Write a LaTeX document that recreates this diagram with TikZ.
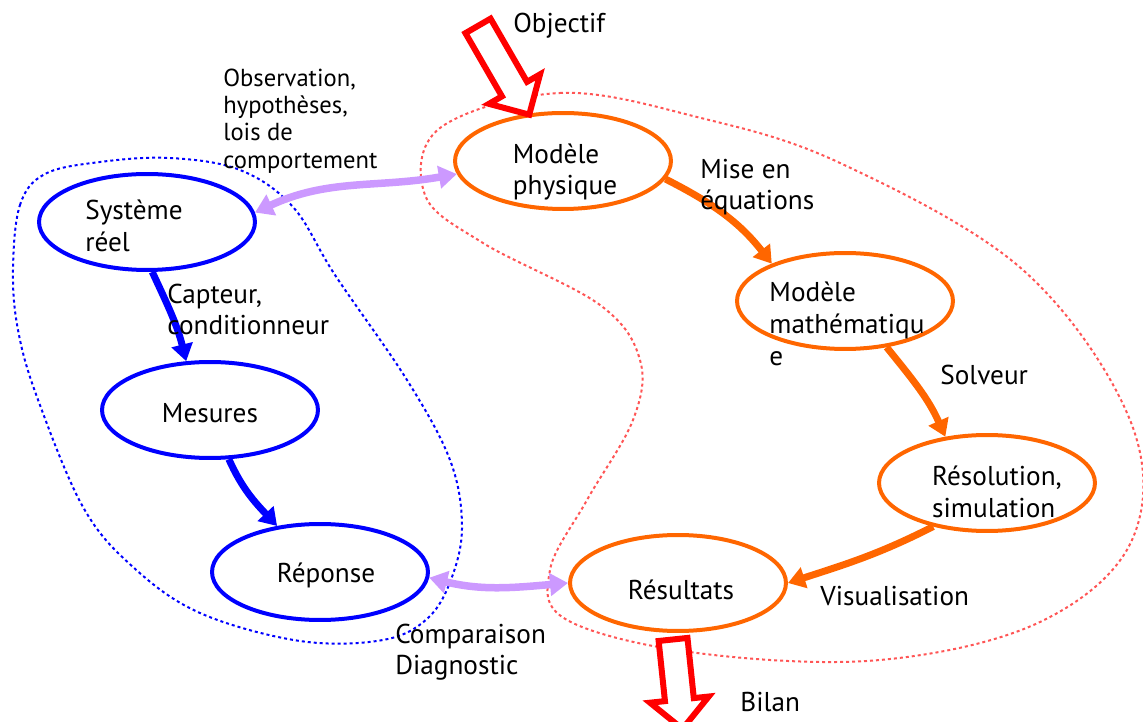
\documentclass[tikz,border=0pt]{standalone}
\usepackage{fontspec}
\setmainfont{PT Sans}
\usepackage{tikz}
\usetikzlibrary{shapes.geometric, shapes.arrows, arrows.meta}
\definecolor{orangeA}{RGB}{255,102,0}
\definecolor{rougeP}{RGB}{255,85,85}
\definecolor{lilas}{RGB}{204,153,255}
\newcommand{\ellfont}{\fontsize{15.5}{18.2}\selectfont}
\newcommand{\lblfont}{\fontsize{15.5}{17.6}\selectfont}
\newcommand{\obsfont}{\fontsize{14}{15.4}\selectfont}

\begin{document}
\begin{tikzpicture}[x=0.02cm, y=0.02cm,
    bluenode/.style={draw=blue, ellipse, line width=0.08cm, minimum width=4.32cm, minimum height=1.92cm, inner sep=0pt},
    orangenode/.style={bluenode, draw=orangeA},
    eltext/.style={font=\ellfont, align=left, inner sep=0pt},
    bluearrow/.style={draw=blue, line width=0.14cm, -{Triangle[length=0.34cm, width=0.42cm]}},
    orangearrow/.style={bluearrow, draw=orangeA},
    lilacarrow/.style={draw=lilas, line width=0.15cm, {Triangle[length=0.36cm, width=0.44cm]}-{Triangle[length=0.36cm, width=0.44cm]}},
    hollowarrow/.style={single arrow, draw=red, fill=white, line width=0.12cm, inner sep=0.23cm, single arrow head extend=0.3cm},
    bluedots/.style={draw=blue, line width=0.04cm, dash pattern=on 0.06cm off 0.06cm},
    reddots/.style={draw=rougeP, line width=0.04cm, dash pattern=on 0.06cm off 0.06cm},
    lbl/.style={font=\lblfont, inner sep=0pt}]
        \useasboundingbox (0,0) rectangle (1143,-722);

        \draw[bluedots] plot[smooth cycle, tension=0.6] coordinates {(13,-270) (20,-205) (45,-174) (100,-162) (170,-158) (240,-170) (293,-207) (335,-275) (407,-380) (450,-460) (462,-525) (452,-577) (428,-618) (383,-640) (300,-641) (200,-613) (133,-567) (83,-507) (37,-397) (18,-330)};
        \draw[reddots] plot[smooth cycle, tension=0.6] coordinates {(440,-128) (560,-93) (697,-117) (840,-163) (1023,-270) (1130,-420) (1132,-540) (1040,-622) (880,-660) (697,-653) (567,-620) (550,-570) (587,-500) (633,-420) (640,-360) (600,-305) (483,-243) (425,-195)};

        \node[bluenode, label={[eltext, xshift=-0.26cm, yshift=-0.08cm]center:{Système\\réel}}] (sys) at (147,-222) {};
        \node[bluenode, label={[eltext, yshift=-0.06cm]center:Mesures}] (mes) at (210,-410) {};
        \node[bluenode, label={[eltext, xshift=0.12cm, yshift=-0.06cm]center:Réponse}] (rep) at (320,-572) {};
        \node[orangenode, label={[eltext, xshift=0.04cm, yshift=-0.22cm]center:{Modèle\\physique}}] (phys) at (563,-161) {};
        \node[orangenode, label={[eltext, xshift=0.04cm, yshift=-0.46cm]center:{Modèle\\mathématiqu\\e}}] (math) at (845,-301) {};
        \node[orangenode, label={[eltext, xshift=0.2cm, yshift=-0.18cm]center:{Résolution,\\simulation}}] (simu) at (987,-483) {};
        \node[orangenode, label={[eltext, xshift=0.06cm, yshift=-0.14cm]center:Résultats}] (resu) at (678,-583) {};

        \draw[bluearrow] (sys.-84) to[out=-65, in=104] (mes.116);
        \draw[bluearrow] (mes.-69) to[out=-66, in=133] (rep.133);
        \draw[orangearrow] (phys.-10) to[out=-27, in=128] (math.153);
        \draw[orangearrow] (math.-48) to[out=-51, in=114] (simu.132);
        \draw[orangearrow] (simu.219) to[out=207, in=18] (resu.0);
        \draw[lilacarrow] (sys.5) to[out=25, in=190] (phys.187);
        \draw[lilacarrow] (rep.-3) to[out=-14, in=185] (resu.180);

        \node[hollowarrow, minimum height=2.05cm, rotate=-60] (objectif) at (500,-64) {};
        \node[hollowarrow, minimum height=1.8cm, rotate=-84] (bilan) at (677,-677) {};

        \node[lbl, anchor=base west] (objtxt) at (513,-33) {Objectif};
        \node[lbl, anchor=north west, font=\obsfont, align=left] (obs) at (223,-69) {Observation,\\hypothèses,\\lois de\\comportement};
        \node[lbl, anchor=north west, align=left] (mise) at (700,-159) {Mise en\\équations};
        \node[lbl, anchor=north west, align=left] (capt) at (167,-284) {Capteur,\\conditionneur};
        \node[lbl, anchor=base west] (solv) at (940,-385) {Solveur};
        \node[lbl, anchor=base west] (visu) at (820,-605) {Visualisation};
        \node[lbl, anchor=north west, align=left] (comp) at (395,-624) {Comparaison\\Diagnostic};
        \node[lbl, anchor=base west] (bilantxt) at (740,-711) {Bilan};
\end{tikzpicture}
\end{document}
